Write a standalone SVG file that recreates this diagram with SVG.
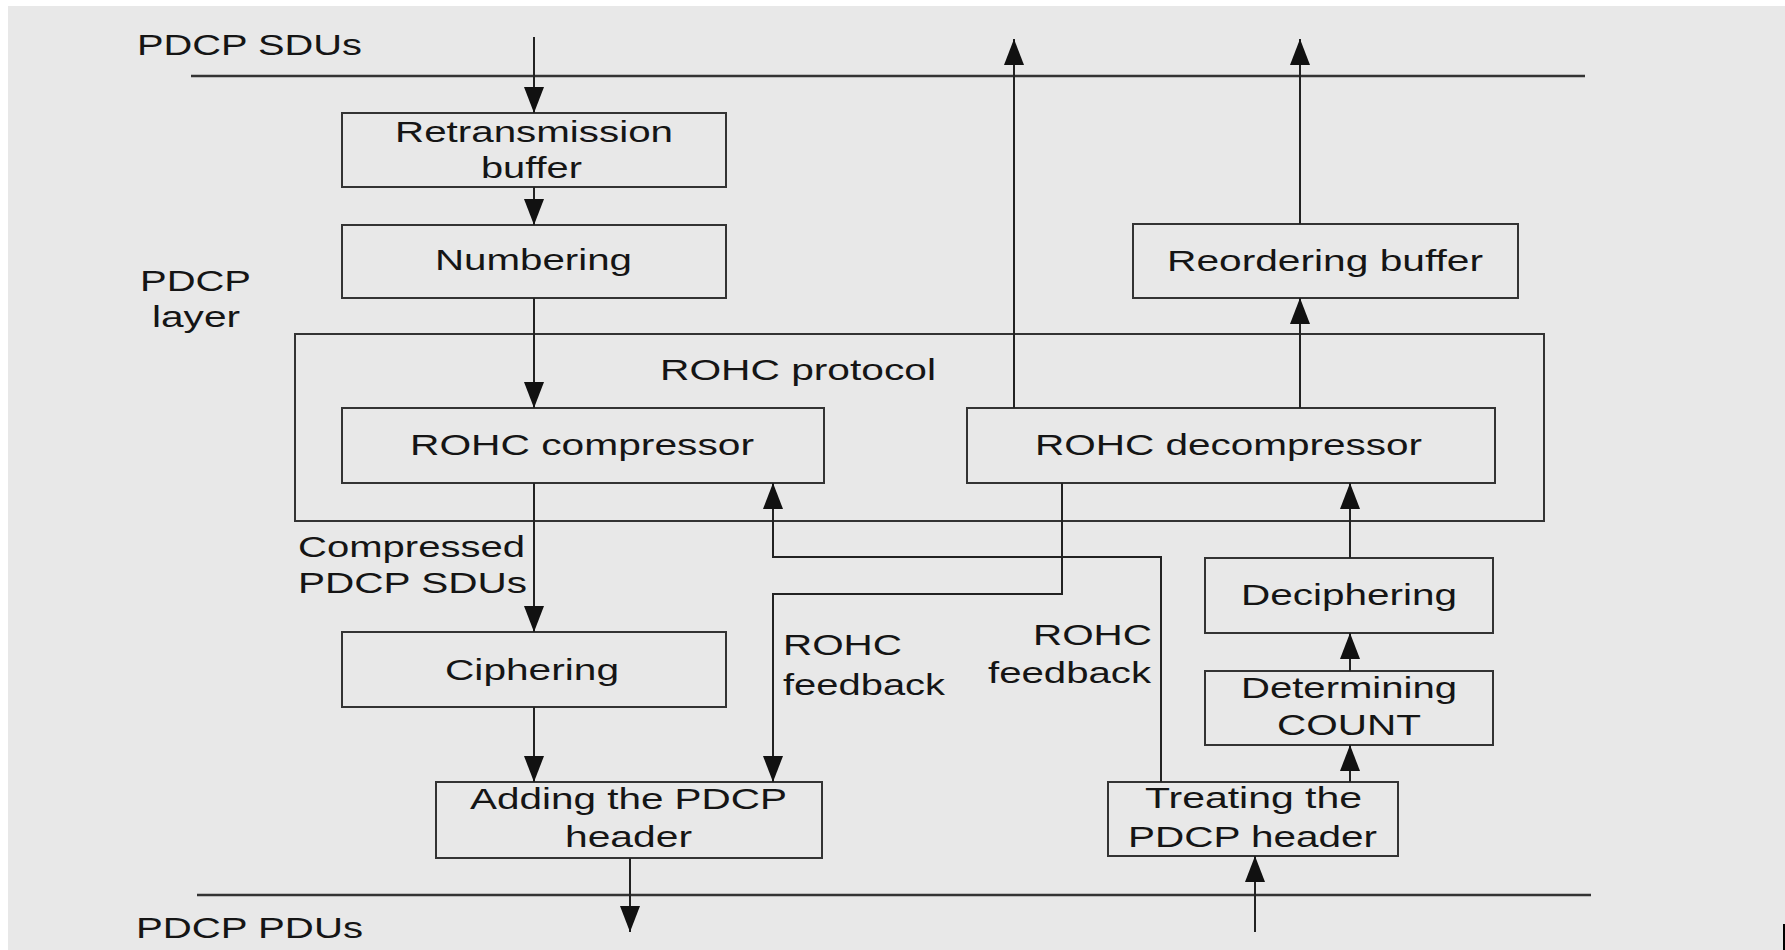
<svg xmlns="http://www.w3.org/2000/svg" width="1785" height="950" viewBox="0 0 1785 950">
<defs>
<marker id="ah" markerUnits="userSpaceOnUse" markerWidth="26" markerHeight="20" viewBox="0 0 26 20" refX="26" refY="10" orient="auto">
<path d="M0,0 L26,10 L0,20 Z" fill="#111"/>
</marker>
<style>
.box{fill:#e8e8e8;stroke:#333;stroke-width:2}
.frame{fill:none;stroke:#333;stroke-width:2}
.layer{stroke:#333;stroke-width:2.6}
.c{fill:none;stroke:#222;stroke-width:2}
.ca{fill:none;stroke:#222;stroke-width:2;marker-end:url(#ah)}
text{font-family:"Liberation Sans",Arial,sans-serif;font-size:29px;fill:#151515}
</style>
</defs>
<rect x="0" y="0" width="1785" height="950" fill="#ffffff"/>
<rect x="8" y="6" width="1777" height="944" fill="#e8e8e8"/>
<rect x="1783" y="924" width="2" height="26" fill="#000"/>

<g id="layer-lines">
<line class="layer" x1="191" y1="76" x2="1585" y2="76"/>
<line class="layer" x1="197" y1="895" x2="1591" y2="895"/>
</g>

<g id="labels">
<text x="137" y="55" textLength="225" lengthAdjust="spacingAndGlyphs">PDCP SDUs</text>
<text x="140" y="291" textLength="111" lengthAdjust="spacingAndGlyphs">PDCP</text>
<text x="152" y="327" textLength="88" lengthAdjust="spacingAndGlyphs">layer</text>
<text x="136" y="938" textLength="227" lengthAdjust="spacingAndGlyphs">PDCP PDUs</text>
<text x="298" y="557" textLength="227" lengthAdjust="spacingAndGlyphs">Compressed</text>
<text x="298" y="593" textLength="229" lengthAdjust="spacingAndGlyphs">PDCP SDUs</text>
<text x="783" y="655" textLength="119" lengthAdjust="spacingAndGlyphs">ROHC</text>
<text x="783" y="695" textLength="162" lengthAdjust="spacingAndGlyphs">feedback</text>
<text x="1033" y="645" textLength="119" lengthAdjust="spacingAndGlyphs">ROHC</text>
<text x="988" y="683" textLength="163" lengthAdjust="spacingAndGlyphs">feedback</text>
</g>

<g id="rohc-protocol">
<rect class="frame" x="295" y="334" width="1249" height="187"/>
<text x="660" y="380" textLength="276" lengthAdjust="spacingAndGlyphs">ROHC protocol</text>
</g>

<g id="retransmission-buffer">
<rect class="box" x="342" y="113" width="384" height="74"/>
<text x="395" y="142" textLength="278" lengthAdjust="spacingAndGlyphs">Retransmission</text>
<text x="481" y="178" textLength="101" lengthAdjust="spacingAndGlyphs">buffer</text>
</g>

<g id="numbering">
<rect class="box" x="342" y="225" width="384" height="73"/>
<text x="435" y="270" textLength="197" lengthAdjust="spacingAndGlyphs">Numbering</text>
</g>

<g id="rohc-compressor">
<rect class="box" x="342" y="408" width="482" height="75"/>
<text x="410" y="455" textLength="344" lengthAdjust="spacingAndGlyphs">ROHC compressor</text>
</g>

<g id="ciphering">
<rect class="box" x="342" y="632" width="384" height="75"/>
<text x="445" y="680" textLength="174" lengthAdjust="spacingAndGlyphs">Ciphering</text>
</g>

<g id="adding-header">
<rect class="box" x="436" y="782" width="386" height="76"/>
<text x="470" y="809" textLength="317" lengthAdjust="spacingAndGlyphs">Adding the PDCP</text>
<text x="565" y="847" textLength="127" lengthAdjust="spacingAndGlyphs">header</text>
</g>

<g id="reordering-buffer">
<rect class="box" x="1133" y="224" width="385" height="74"/>
<text x="1167" y="271" textLength="316" lengthAdjust="spacingAndGlyphs">Reordering buffer</text>
</g>

<g id="rohc-decompressor">
<rect class="box" x="967" y="408" width="528" height="75"/>
<text x="1035" y="455" textLength="387" lengthAdjust="spacingAndGlyphs">ROHC decompressor</text>
</g>

<g id="deciphering">
<rect class="box" x="1205" y="558" width="288" height="75"/>
<text x="1241" y="605" textLength="216" lengthAdjust="spacingAndGlyphs">Deciphering</text>
</g>

<g id="determining-count">
<rect class="box" x="1205" y="671" width="288" height="74"/>
<text x="1241" y="698" textLength="216" lengthAdjust="spacingAndGlyphs">Determining</text>
<text x="1277" y="735" textLength="144" lengthAdjust="spacingAndGlyphs">COUNT</text>
</g>

<g id="treating-header">
<rect class="box" x="1108" y="782" width="290" height="74"/>
<text x="1145" y="808" textLength="217" lengthAdjust="spacingAndGlyphs">Treating the</text>
<text x="1128" y="847" textLength="249" lengthAdjust="spacingAndGlyphs">PDCP header</text>
</g>

<g id="connectors">
<line class="ca" x1="534" y1="37" x2="534" y2="113"/>
<line class="ca" x1="534" y1="187" x2="534" y2="225"/>
<line class="ca" x1="534" y1="298" x2="534" y2="408"/>
<line class="ca" x1="534" y1="483" x2="534" y2="632"/>
<line class="ca" x1="534" y1="707" x2="534" y2="782"/>
<line class="ca" x1="630" y1="858" x2="630" y2="932"/>
<line class="ca" x1="1255" y1="932" x2="1255" y2="856"/>
<line class="ca" x1="1350" y1="782" x2="1350" y2="745"/>
<line class="ca" x1="1350" y1="671" x2="1350" y2="633"/>
<line class="ca" x1="1350" y1="558" x2="1350" y2="483"/>
<line class="ca" x1="1300" y1="408" x2="1300" y2="298"/>
<line class="ca" x1="1300" y1="224" x2="1300" y2="39"/>
<line class="ca" x1="1014" y1="408" x2="1014" y2="39"/>
<polyline class="ca" points="1062,483 1062,594 773,594 773,782"/>
<polyline class="ca" points="1161,782 1161,557 773,557 773,483"/>
</g>
</svg>
